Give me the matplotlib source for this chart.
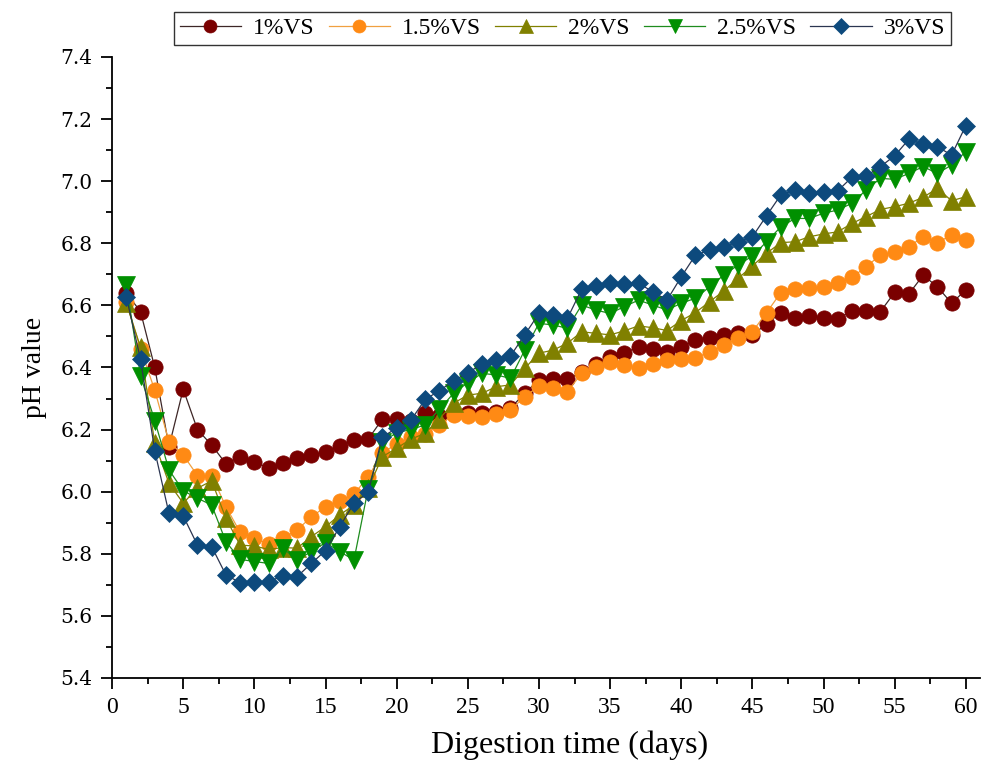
import numpy as np
import matplotlib
matplotlib.use('Agg')
import matplotlib.pyplot as plt
from matplotlib.ticker import MultipleLocator

plt.rcParams.update({
    'font.family': 'serif',
    'font.serif': ['Liberation Serif', 'DejaVu Serif'],
})

# Digestion days
days = np.arange(1, 61)

# pH readings per VS loading
ph_1 = [6.64, 6.58, 6.40, 6.145, 6.33, 6.20, 6.15, 6.09, 6.113, 6.095,
        6.077, 6.093, 6.11, 6.118, 6.127, 6.148, 6.166, 6.169, 6.234, 6.234,
        6.228, 6.252, 6.245, 6.25, 6.252, 6.255, 6.258, 6.269, 6.317, 6.36,
        6.362, 6.362, 6.385, 6.41, 6.435, 6.446, 6.467, 6.459, 6.451, 6.467,
        6.489, 6.494, 6.505, 6.51, 6.505, 6.54, 6.577, 6.559, 6.567, 6.56,
        6.557, 6.583, 6.583, 6.58, 6.642, 6.637, 6.697, 6.66, 6.607, 6.65]

ph_15 = [6.612, 6.46, 6.327, 6.161, 6.118, 6.052, 6.052, 5.952, 5.869, 5.85,
         5.832, 5.85, 5.877, 5.918, 5.952, 5.971, 5.992, 6.048, 6.124, 6.155,
         6.175, 6.185, 6.215, 6.247, 6.245, 6.242, 6.25, 6.263, 6.306, 6.34,
         6.333, 6.322, 6.381, 6.40, 6.419, 6.408, 6.397, 6.411, 6.424, 6.426,
         6.43, 6.451, 6.472, 6.494, 6.515, 6.577, 6.641, 6.652, 6.655, 6.66,
         6.671, 6.69, 6.725, 6.762, 6.771, 6.789, 6.821, 6.802, 6.827, 6.811]

ph_2 = [6.607, 6.465, 6.156, 6.027, 5.963, 6.011, 6.035, 5.914, 5.828, 5.825,
        5.814, 5.82, 5.818, 5.855, 5.887, 5.925, 5.957, 6.011, 6.113, 6.14,
        6.169, 6.188, 6.235, 6.285, 6.311, 6.317, 6.338, 6.344, 6.397, 6.446,
        6.456, 6.478, 6.515, 6.51, 6.505, 6.518, 6.534, 6.528, 6.519, 6.551,
        6.577, 6.612, 6.647, 6.687, 6.727, 6.768, 6.802, 6.805, 6.821, 6.83,
        6.837, 6.864, 6.886, 6.909, 6.918, 6.929, 6.948, 6.977, 6.937, 6.95]

ph_25 = [6.666, 6.373, 6.229, 6.07, 6.003, 5.979, 5.957, 5.839, 5.782, 5.775,
         5.769, 5.818, 5.78, 5.807, 5.836, 5.807, 5.78, 6.01, 6.16, 6.19,
         6.20, 6.215, 6.265, 6.317, 6.351, 6.381, 6.376, 6.365, 6.456, 6.542,
         6.537, 6.526, 6.601, 6.585, 6.574, 6.596, 6.617, 6.601, 6.585, 6.607,
         6.623, 6.66, 6.698, 6.73, 6.759, 6.805, 6.853, 6.88, 6.88, 6.897,
         6.907, 6.929, 6.972, 7.009, 7.006, 7.025, 7.047, 7.025, 7.052, 7.095]

ph_3 = [6.628, 6.426, 6.132, 5.93, 5.922, 5.828, 5.823, 5.732, 5.707, 5.71,
        5.71, 5.729, 5.726, 5.769, 5.81, 5.887, 5.963, 5.998, 6.177, 6.204,
        6.23, 6.297, 6.325, 6.357, 6.383, 6.411, 6.424, 6.437, 6.505, 6.574,
        6.569, 6.558, 6.652, 6.662, 6.671, 6.67, 6.671, 6.644, 6.617, 6.692,
        6.762, 6.778, 6.789, 6.805, 6.821, 6.889, 6.956, 6.972, 6.961, 6.966,
        6.969, 7.013, 7.017, 7.047, 7.082, 7.135, 7.119, 7.111, 7.084, 7.179]

labels = ['1%VS', '1.5%VS', '2%VS', '2.5%VS', '3%VS']

styles = [
    dict(marker='o', ms=11, mfc='#7a0000', line='#3d2626'),
    dict(marker='o', ms=11, mfc='#ff8a14', line='#f0a040'),
    dict(marker='^', ms=12.5, mfc='#808000', line='#808000'),
    dict(marker='v', ms=12.5, mfc='#009000', line='#1e8c1e'),
    dict(marker='D', ms=9.5, mfc='#0d4a7d', line='#2b3550'),
]

fig = plt.figure(figsize=(9.83, 7.64), dpi=100)
ax = fig.add_axes([0.114, 0.1126, 0.883, 0.8128])

for vals, lab, st in zip([ph_1, ph_15, ph_2, ph_25, ph_3], labels, styles):
    ax.plot(days, vals, color=st['line'], linewidth=0.9,
            marker=st['marker'], markersize=st['ms'],
            markerfacecolor=st['mfc'], markeredgecolor=st['mfc'],
            markeredgewidth=0.5, label=lab)

ax.set_xlim(0, 61)
ax.set_ylim(5.4, 7.4)
ax.xaxis.set_major_locator(MultipleLocator(5))
ax.xaxis.set_minor_locator(MultipleLocator(2.5))
ax.yaxis.set_major_locator(MultipleLocator(0.2))
ax.yaxis.set_minor_locator(MultipleLocator(0.1))
ax.yaxis.set_major_formatter(matplotlib.ticker.FormatStrFormatter('%.1f'))

ax.spines['top'].set_visible(False)
ax.spines['right'].set_visible(False)
for s in ['left', 'bottom']:
    ax.spines[s].set_linewidth(1.3)

ax.tick_params(which='major', direction='out', length=8, width=1.3)
ax.tick_params(which='minor', direction='out', length=4.5, width=1.3)
ax.tick_params(axis='x', labelsize=17, pad=6)
ax.tick_params(axis='y', labelsize=14.5, pad=6)
for t in ax.get_yticklabels():
    t.set_fontfamily('DejaVu Serif')

ax.set_xlabel('Digestion time (days)', fontsize=23)
ax.xaxis.set_label_coords(0.527, -0.084)
ax.set_ylabel('pH value', fontsize=20, labelpad=10)

leg = fig.legend(loc='center', bbox_to_anchor=(0.572, 0.963), ncol=5,
                 fontsize=17, frameon=True, fancybox=False, edgecolor='black',
                 handlelength=2.6, handletextpad=0.5, columnspacing=0.6,
                 borderpad=0.25, markerscale=0.85)
leg.get_frame().set_linewidth(1.0)

fig.savefig('out.png', dpi=100)
